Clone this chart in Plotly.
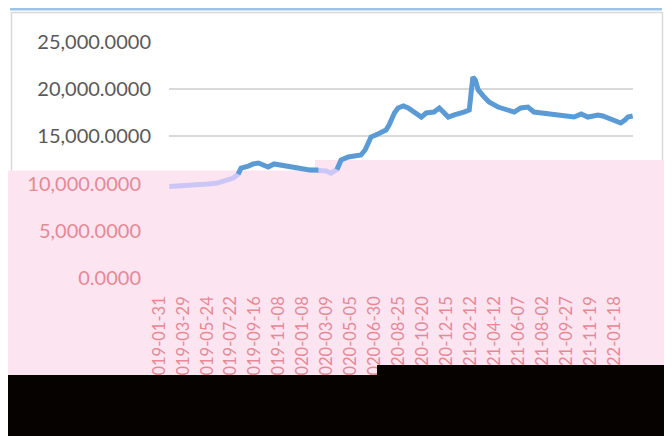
import numpy as np
import plotly.graph_objects as go

# ---- data ----
day_index = [0, 18, 33, 50, 65, 80, 93, 107, 115, 120, 132, 140, 149, 157, 165, 175, 187, 199,
             209, 220, 234, 249, 262, 270, 280, 287, 299, 309, 320, 327, 332, 337, 345, 354,
             362, 367, 372, 376, 382, 391, 399, 409, 421, 429, 442, 451, 459, 466, 476, 484,
             492, 501, 504, 507, 511, 516, 526, 534, 549, 562, 576, 587, 599, 609, 621, 633,
             643, 654, 666, 676, 688, 699, 708, 716, 724, 733, 743, 754, 761, 766, 774]
values = [9700, 9750, 9850, 9850, 9960, 10060, 10280, 10590, 11000, 11650, 11860, 12080, 12180,
          11970, 11760, 12080, 11970, 11760, 11760, 11550, 11440, 11440, 11330, 11100, 11500,
          12500, 12820, 12920, 13030, 13560, 14410, 14940, 15150, 15360, 15680, 16210, 16950,
          17480, 18010, 18220, 18010, 17580, 17050, 17480, 17580, 18010, 17580, 17050, 17270,
          17370, 17580, 17800, 19500, 21290, 20970, 19920, 19170, 18640, 18110, 17800, 17580,
          18010, 18110, 17580, 17480, 17370, 17270, 17160, 17050, 17050, 17370, 17050, 17160,
          17270, 17160, 16950, 16630, 16420, 16740, 17050, 17160]
tick_positions = [0, 40, 80, 120, 160, 200, 240, 280, 320, 360, 400, 440, 480, 520, 560, 600,
                  640, 680, 720, 760]
tick_labels = ["2019-01-31", "2019-03-29", "2019-05-24", "2019-07-22", "2019-09-16",
               "2019-11-08", "2020-01-08", "2020-03-09", "2020-05-05", "2020-06-30",
               "2020-08-25", "2020-10-20", "2020-12-15", "2021-02-12", "2021-04-12",
               "2021-06-07", "2021-08-02", "2021-09-27", "2021-11-19", "2022-01-18"]
n_days = 775

# ---- style ----
BLUE = "#5B9BD5"
LAV = "#CBC6F6"
PINK = "#FDE4F1"
SALMON = "#E58A95"
GRAY_TXT = "#595959"
GRID = "#D9D9D9"
FONT = "Lato"

OFF = 8  # page body margin offset
W, H = 672, 436
L, R, T, B = 169 - OFF, 633 - OFF, 42 - OFF, 278 - OFF
def px(x):
    return (x - OFF - L) / (R - L)
def py(y):
    return (B - (y - OFF)) / (B - T)

idx = np.array(day_index)
vals = np.array(values, dtype=float)
pink_top_val = np.where(idx < 245, 11360, 12500)
inside = vals < pink_top_val
nb_in = inside.copy()
nb_in[1:] |= inside[:-1]
nb_in[:-1] |= inside[1:]
out = ~inside
nb_out = out.copy()
nb_out[1:] |= out[:-1]
nb_out[:-1] |= out[1:]

fig = go.Figure()
fig.add_trace(go.Scatter(x=idx, y=np.where(nb_in, vals, np.nan), mode="lines",
                         line=dict(color=LAV, width=5), connectgaps=False,
                         hoverinfo="skip", showlegend=False, yaxis="y"))
fig.add_trace(go.Scatter(x=idx, y=np.where(nb_out, vals, np.nan), mode="lines",
                         line=dict(color=BLUE, width=5), connectgaps=False,
                         showlegend=False, yaxis="y2"))

shapes = [
    dict(type="rect", xref="paper", yref="paper", x0=px(10), x1=px(662), y0=py(8), y1=py(10.5),
         fillcolor="#9DC3E6", line=dict(width=0), layer="below"),
    dict(type="rect", xref="paper", yref="paper", x0=px(11.5), x1=px(662.5), y0=py(430), y1=py(12.5),
         fillcolor="rgba(0,0,0,0)", line=dict(color="#D9D9D9", width=1.5), layer="below"),
    dict(type="path", xref="paper", yref="paper",
         path=f"M {px(7)} {py(170.5)} L {px(315)} {py(170.5)} L {px(315)} {py(160)} "
              f"L {px(667)} {py(160)} L {px(667)} {py(440)} L {px(7)} {py(440)} Z",
         fillcolor=PINK, line=dict(width=0), layer="below"),
    dict(type="path", xref="paper", yref="paper",
         path=f"M {px(7)} {py(375)} L {px(377)} {py(375)} L {px(377)} {py(365)} "
              f"L {px(667)} {py(365)} L {px(667)} {py(445)} L {px(7)} {py(445)} Z",
         fillcolor="#050200", line=dict(width=0), layer="above"),
]

fig.update_layout(
    width=W, height=H, autosize=False,
    margin=dict(l=L, r=W - R, t=T, b=H - B, pad=0),
    paper_bgcolor="white", plot_bgcolor="rgba(0,0,0,0)",
    showlegend=False,
    shapes=shapes,
    xaxis=dict(range=[-0.5, n_days - 0.5], tickmode="array", tickvals=tick_positions,
               ticktext=tick_labels, tickangle=-90, showgrid=False, zeroline=False,
               showline=False, ticks="", ticklabelstandoff=14, ticklabelshift=-10,
               tickfont=dict(family=FONT, size=16.5, color=SALMON)),
    yaxis=dict(range=[0, 25000], tickmode="array", tickvals=[0, 5000, 10000],
               tickformat=",.4f", showgrid=False, zeroline=False, showline=False, ticks="",
               ticklabelstandoff=27, tickfont=dict(family=FONT, size=20, color=SALMON)),
    yaxis2=dict(range=[0, 25000], overlaying="y", anchor="x", side="left", tickmode="array",
                tickvals=[15000, 20000, 25000], tickformat=",.4f", showgrid=True,
                gridcolor=GRID, gridwidth=1.5, zeroline=False, showline=False, ticks="",
                ticklabelstandoff=17, tickfont=dict(family=FONT, size=20, color=GRAY_TXT)),
)

fig.write_html("out.html")
